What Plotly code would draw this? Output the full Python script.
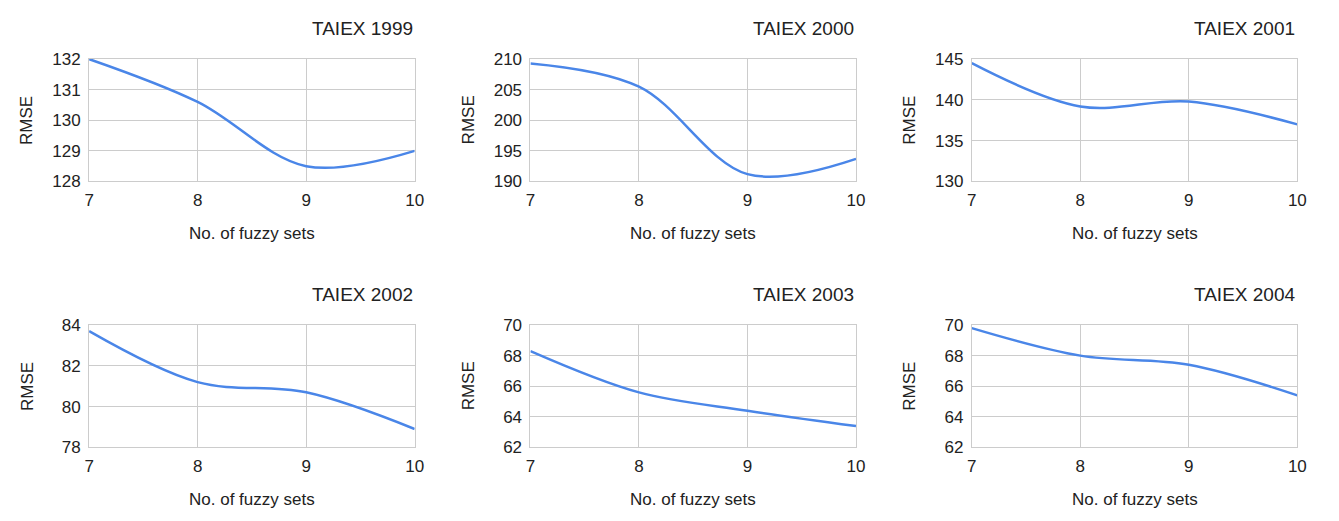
import plotly.graph_objects as go

fuzzy_sets = [7, 8, 9, 10]
titles = ["TAIEX 1999", "TAIEX 2000", "TAIEX 2001", "TAIEX 2002", "TAIEX 2003", "TAIEX 2004"]
rmse_1999 = [132.0, 130.6, 128.5, 129.0]
rmse_2000 = [209.3, 205.5, 191.2, 193.7]
rmse_2001 = [144.5, 139.2, 139.8, 137.0]
rmse_2002 = [83.7, 81.2, 80.7, 78.9]
rmse_2003 = [68.3, 65.6, 64.4, 63.4]
rmse_2004 = [69.8, 68.0, 67.4, 65.4]
series = [rmse_1999, rmse_2000, rmse_2001, rmse_2002, rmse_2003, rmse_2004]
y_ranges = [[128, 132], [190, 210], [130, 145], [78, 84], [62, 70], [62, 70]]
y_dticks = [1, 5, 5, 2, 2, 2]

W, H = 1339, 521
x_doms = [(85, 414), (531, 860), (977, 1306)]
y_doms = [(52, 179), (328, 455)]

LINE = "#4a86e8"
GRID = "#cccccc"
TXT = "#222222"
FONT = "Liberation Sans, Arial, sans-serif"

fig = go.Figure()
annotations = []
for i, vals in enumerate(series):
    r, c = divmod(i, 3)
    xa = "x" if i == 0 else f"x{i+1}"
    ya = "y" if i == 0 else f"y{i+1}"
    fig.add_trace(go.Scatter(x=fuzzy_sets, y=vals, mode="lines",
                             line=dict(color=LINE, width=2.5, shape="spline", smoothing=1.0),
                             xaxis=xa, yaxis=ya, showlegend=False, hoverinfo="x+y"))
    x0, x1 = x_doms[c]
    yt, yb = y_doms[r]
    xd = [x0 / W, x1 / W]
    yd = [1 - yb / H, 1 - yt / H]
    common = dict(showgrid=True, gridcolor=GRID, gridwidth=1, zeroline=False,
                  showline=True, linecolor=GRID, linewidth=1, mirror=True,
                  tickfont=dict(family=FONT, size=17, color=TXT), ticks="")
    fig.layout[("xaxis" if i == 0 else f"xaxis{i+1}")] = dict(
        domain=xd, range=[7, 10], tickvals=fuzzy_sets, anchor=ya, ticklabelstandoff=3, **common)
    fig.layout[("yaxis" if i == 0 else f"yaxis{i+1}")] = dict(
        domain=yd, range=y_ranges[i], dtick=y_dticks[i], anchor=xa, ticklabelstandoff=4, **common)
    # title
    annotations.append(dict(text=titles[i], xref="paper", yref="paper",
                            x=x1 / W, y=1 - (yt - 32) / H, xanchor="right", yanchor="middle",
                            showarrow=False, font=dict(family=FONT, size=19, color=TXT)))
    # x title
    annotations.append(dict(text="No. of fuzzy sets", xref="paper", yref="paper",
                            x=(x0 + x1) / 2 / W, y=1 - (yb + 54) / H, xanchor="center", yanchor="middle",
                            showarrow=False, font=dict(family=FONT, size=17, color=TXT)))
    # y title
    annotations.append(dict(text="RMSE", xref="paper", yref="paper", textangle=-90,
                            x=(x0 - 63) / W, y=1 - (yt + yb) / 2 / H, xanchor="center", yanchor="middle",
                            showarrow=False, font=dict(family=FONT, size=17, color=TXT)))

fig.update_layout(width=W, height=H, margin=dict(l=0, r=0, t=0, b=0),
                  paper_bgcolor="white", plot_bgcolor="white",
                  annotations=annotations, font=dict(family=FONT, color=TXT))
fig.write_html("out.html")
